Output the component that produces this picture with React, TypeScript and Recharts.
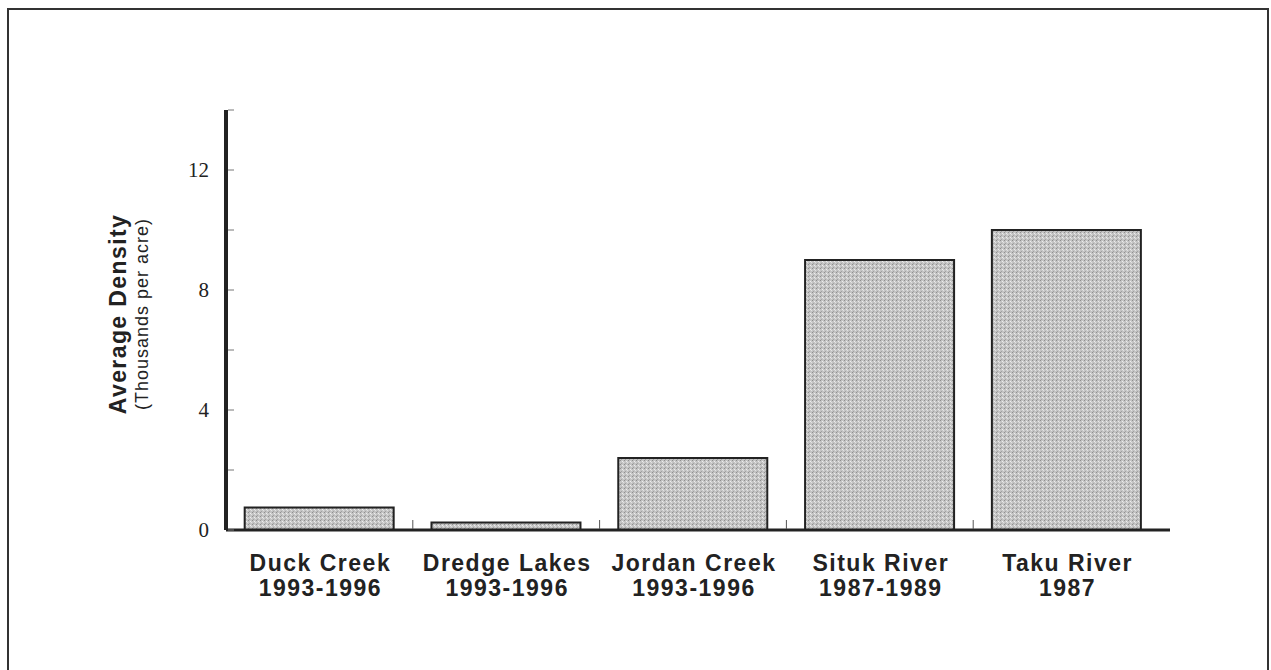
import { Bar, BarChart, XAxis, YAxis, Label } from 'recharts'

const categories = ['Duck Creek', 'Dredge Lakes', 'Jordan Creek', 'Situk River', 'Taku River']
const periods = ['1993-1996', '1993-1996', '1993-1996', '1987-1989', '1987']
const densities = [0.75, 0.25, 2.4, 9.0, 10.0]
const yTicks = [0, 2, 4, 6, 8, 10, 12, 14]
const yLabelTicks = [0, 4, 8, 12]

const data = categories.map((name, i) => ({
    name,
    period: periods[i],
    density: densities[i],
}))

const W = 1271
const H = 670
const PLOT_LEFT = 226
const PLOT_RIGHT = 1170
const PLOT_TOP = 110
const PLOT_BOTTOM = 530
const Y_AXIS_W = 80
const X_AXIS_H = 80
const X_PAD_RIGHT = 10
const BAND = (PLOT_RIGHT - PLOT_LEFT - X_PAD_RIGHT) / categories.length

const sans = '"Liberation Sans", Arial, sans-serif'
const serif = '"Liberation Serif", "Times New Roman", serif'

function YTick(props: any) {
    const { x, y, payload } = props
    const showLabel = yLabelTicks.includes(payload.value)
    return (
        <g>
            <line x1={x + 2} x2={x + 8} y1={y} y2={y} stroke="#777" strokeWidth={1} />
            {showLabel ? (
                <text
                    x={x - 17}
                    y={y}
                    dy={7}
                    textAnchor="end"
                    fontFamily={serif}
                    fontSize={21}
                    fill="#222"
                >
                    {payload.value}
                </text>
            ) : null}
        </g>
    )
}

function XTick(props: any) {
    const { x, y, payload, index } = props
    const row = data.find((d) => d.name === payload.value)
    return (
        <g>
            {index < categories.length - 1 ? (
                <line
                    x1={x + BAND / 2}
                    x2={x + BAND / 2}
                    y1={y - 10}
                    y2={y - 1}
                    stroke="#555"
                    strokeWidth={1}
                />
            ) : null}
            <text
                x={x}
                y={y}
                textAnchor="middle"
                fontFamily={sans}
                fontWeight="bold"
                fontSize={23}
                letterSpacing={1.5}
                fill="#222"
            >
                <tspan x={x + 1} dy={41}>
                    {payload.value}
                </tspan>
                <tspan x={x + 1} dy={25}>
                    {row?.period}
                </tspan>
            </text>
        </g>
    )
}

function YTitle(props: any) {
    const vb = props.viewBox ?? { y: PLOT_TOP, height: PLOT_BOTTOM - PLOT_TOP }
    const cy = vb.y + vb.height / 2 - 6
    return (
        <g>
            <text
                x={126}
                y={cy}
                transform={`rotate(-90, 126, ${cy})`}
                textAnchor="middle"
                fontFamily={sans}
                fontWeight="bold"
                fontSize={23}
                letterSpacing={1.4}
                fill="#222"
            >
                Average Density
            </text>
            <text
                x={148}
                y={cy}
                transform={`rotate(-90, 148, ${cy})`}
                textAnchor="middle"
                fontFamily={sans}
                fontSize={18}
                letterSpacing={1}
                fill="#222"
            >
                (Thousands per acre)
            </text>
        </g>
    )
}

export default function App() {
    return (
        <div style={{ position: 'relative', width: W, height: H, background: '#fff' }}>
            <style>{'body{margin:0;overflow:hidden;background:#fff}'}</style>
            <div
                style={{
                    position: 'absolute',
                    left: 7,
                    top: 8,
                    width: 1262,
                    height: H - 8,
                    border: '2px solid #333',
                    borderBottom: 'none',
                    boxSizing: 'border-box',
                }}
            />
            <div style={{ position: 'absolute', left: 0, top: 0 }}>
                <BarChart
                    width={W}
                    height={H}
                    data={data}
                    barCategoryGap="10%"
                    margin={{
                        top: PLOT_TOP,
                        right: W - PLOT_RIGHT,
                        bottom: H - PLOT_BOTTOM - X_AXIS_H,
                        left: PLOT_LEFT - Y_AXIS_W,
                    }}
                >
                    <defs>
                        <pattern id="grain" width="4" height="4" patternUnits="userSpaceOnUse">
                            <rect width="4" height="4" fill="#c4c4c4" />
                            <rect x="0" y="0" width="1" height="1" fill="#8f8f8f" />
                            <rect x="2" y="1" width="1" height="1" fill="#eeeeee" />
                            <rect x="1" y="3" width="1" height="1" fill="#a2a2a2" />
                            <rect x="3" y="2" width="1" height="1" fill="#e2e2e2" />
                        </pattern>
                    </defs>
                    <XAxis
                        dataKey="name"
                        height={X_AXIS_H}
                        padding={{ left: 0, right: X_PAD_RIGHT }}
                        axisLine={{ stroke: '#222', strokeWidth: 3 }}
                        tickLine={false}
                        tickSize={0}
                        tickMargin={0}
                        interval={0}
                        tick={<XTick />}
                    />
                    <YAxis
                        width={Y_AXIS_W}
                        domain={[0, 14]}
                        ticks={yTicks}
                        interval={0}
                        axisLine={{ stroke: '#222', strokeWidth: 4 }}
                        tickLine={false}
                        tickSize={0}
                        tickMargin={0}
                        tick={<YTick />}
                    >
                        <Label content={<YTitle />} />
                    </YAxis>
                    <Bar
                        dataKey="density"
                        fill="url(#grain)"
                        stroke="#222"
                        strokeWidth={2}
                        isAnimationActive={false}
                    />
                </BarChart>
            </div>
        </div>
    )
}
